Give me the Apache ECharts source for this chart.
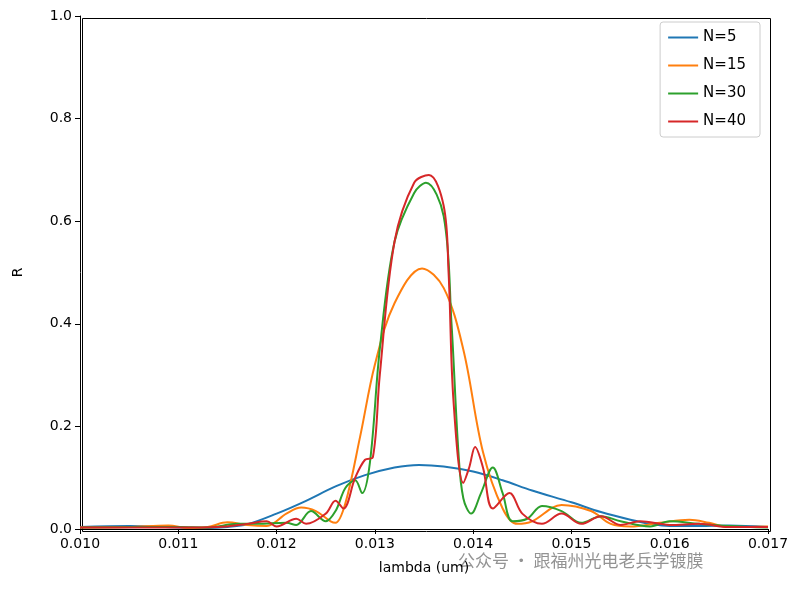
<!DOCTYPE html>
<html>
<head>
<meta charset="utf-8">
<script src="https://cdn.jsdelivr.net/npm/echarts@6/dist/echarts.min.js"></script>
<style>html,body{margin:0;padding:0;background:#fff}#c{width:803px;height:593px}</style>
</head>
<body>
<div id="c"></div>
<script>
// 数据 (lambda, R)
const n5 = [[0.010,0.004],[0.0105,0.006],[0.011,0.003],[0.0113,0.002],[0.0115,0.004],[0.0117,0.009],[0.012,0.03],[0.0123,0.055],[0.0126,0.083],[0.0129,0.105],[0.0132,0.12],[0.01345,0.125],[0.0137,0.122],[0.014,0.112],[0.0143,0.095],[0.0146,0.075],[0.015,0.052],[0.0153,0.033],[0.0156,0.018],[0.0158,0.01],[0.016,0.006],[0.0163,0.006],[0.0166,0.007],[0.017,0.004]]
const n15 = [[0.010,0.003],[0.0105,0.004],[0.0109,0.007],[0.0111,0.002],[0.0113,0.004],[0.0115,0.013],[0.0117,0.008],[0.0119,0.006],[0.0121,0.03],[0.01225,0.042],[0.0124,0.035],[0.01255,0.015],[0.0126,0.012],[0.0127,0.05],[0.01285,0.18],[0.013,0.32],[0.0132,0.44],[0.01348,0.508],[0.0137,0.47],[0.0139,0.35],[0.0141,0.15],[0.0143,0.04],[0.01445,0.01],[0.0146,0.015],[0.0149,0.047],[0.0152,0.035],[0.0154,0.01],[0.0156,0.005],[0.0159,0.012],[0.0162,0.018],[0.0164,0.012],[0.0166,0.004],[0.017,0.005]]
const n30 = [[0.010,0.003],[0.011,0.004],[0.0113,0.003],[0.0116,0.01],[0.0118,0.01],[0.0121,0.012],[0.0122,0.008],[0.01235,0.035],[0.0125,0.015],[0.0126,0.035],[0.0127,0.08],[0.0128,0.095],[0.01287,0.07],[0.01295,0.13],[0.01305,0.35],[0.0132,0.56],[0.0134,0.655],[0.01352,0.675],[0.0137,0.61],[0.01378,0.4],[0.01385,0.15],[0.0139,0.06],[0.01398,0.03],[0.01408,0.07],[0.0142,0.12],[0.0143,0.07],[0.0144,0.015],[0.01455,0.02],[0.0147,0.045],[0.0149,0.035],[0.0151,0.012],[0.0153,0.025],[0.0155,0.015],[0.0158,0.005],[0.016,0.015],[0.0163,0.01],[0.0166,0.006],[0.017,0.003]]
const n40 = [[0.010,0.003],[0.011,0.003],[0.0114,0.004],[0.0117,0.01],[0.0119,0.015],[0.012,0.005],[0.0122,0.02],[0.0123,0.01],[0.0125,0.03],[0.0126,0.055],[0.01268,0.04],[0.0128,0.1],[0.0129,0.135],[0.01298,0.14],[0.01305,0.3],[0.0132,0.56],[0.0134,0.675],[0.01355,0.69],[0.0137,0.63],[0.01375,0.5],[0.0138,0.25],[0.0139,0.09],[0.01396,0.12],[0.01402,0.16],[0.0141,0.12],[0.0142,0.04],[0.01437,0.07],[0.0145,0.03],[0.0147,0.01],[0.0149,0.03],[0.0151,0.01],[0.0153,0.025],[0.0155,0.008],[0.0157,0.015],[0.016,0.008],[0.0163,0.01],[0.0166,0.004],[0.017,0.004]]
const names = ['N=5', 'N=15', 'N=30', 'N=40']
const colors = ['#1f77b4', '#ff7f0e', '#2ca02c', '#d62728']

const myChart = echarts.init(document.getElementById('c'))
const font = 'DejaVu Sans'
const axisCommon = {
    axisLine: { show: true, lineStyle: { color: '#000' } },
    axisTick: { show: true, inside: false, length: 5, lineStyle: { color: '#000' } },
    axisLabel: { color: '#000', fontSize: 14, fontFamily: font },
    splitLine: { show: false },
    nameTextStyle: { color: '#000', fontSize: 14, fontFamily: font }
}
const option = {
    animation: false,
    color: colors,
    grid: { left: 80, top: 16, right: 35, bottom: 64 },
    legend: {
        orient: 'vertical', right: 43, top: 22,
        data: names,
        icon: 'rect', itemWidth: 30, itemHeight: 2, itemGap: 13,
        padding: [8, 14, 8, 8],
        borderColor: '#ccc', borderWidth: 1, borderRadius: 3,
        textStyle: { fontSize: 15, fontFamily: font, color: '#000' }
    },
    xAxis: Object.assign({}, axisCommon, {
        type: 'value', min: 0.010, max: 0.017, interval: 0.001,
        name: 'lambda (um)', nameLocation: 'middle', nameGap: 32,
        axisLabel: Object.assign({}, axisCommon.axisLabel, { formatter: v => v.toFixed(3) })
    }),
    yAxis: Object.assign({}, axisCommon, {
        type: 'value', min: 0, max: 1, interval: 0.2,
        name: 'R', nameLocation: 'middle', nameGap: 55,
        axisLabel: Object.assign({}, axisCommon.axisLabel, { formatter: v => v.toFixed(1) })
    }),
    graphic: [
        { type: 'rect', left: 80, top: 16, shape: { width: 688, height: 513 }, style: { fill: 'none', stroke: '#000', lineWidth: 1 }, silent: true },
        { type: 'text', left: 458, top: 552, style: { text: '公众号 · 跟福州光电老兵学镀膜', fill: 'rgba(120,120,120,0.8)', fontSize: 17, fontFamily: 'Noto Sans CJK SC' } }
    ],
    series: [n5, n15, n30, n40].map((d, i) => ({
        name: names[i],
        type: 'line',
        smooth: 0.35,
        showSymbol: false,
        lineStyle: { width: 2 },
        data: d
    }))
}
myChart.setOption(option)
</script>
</body>
</html>
